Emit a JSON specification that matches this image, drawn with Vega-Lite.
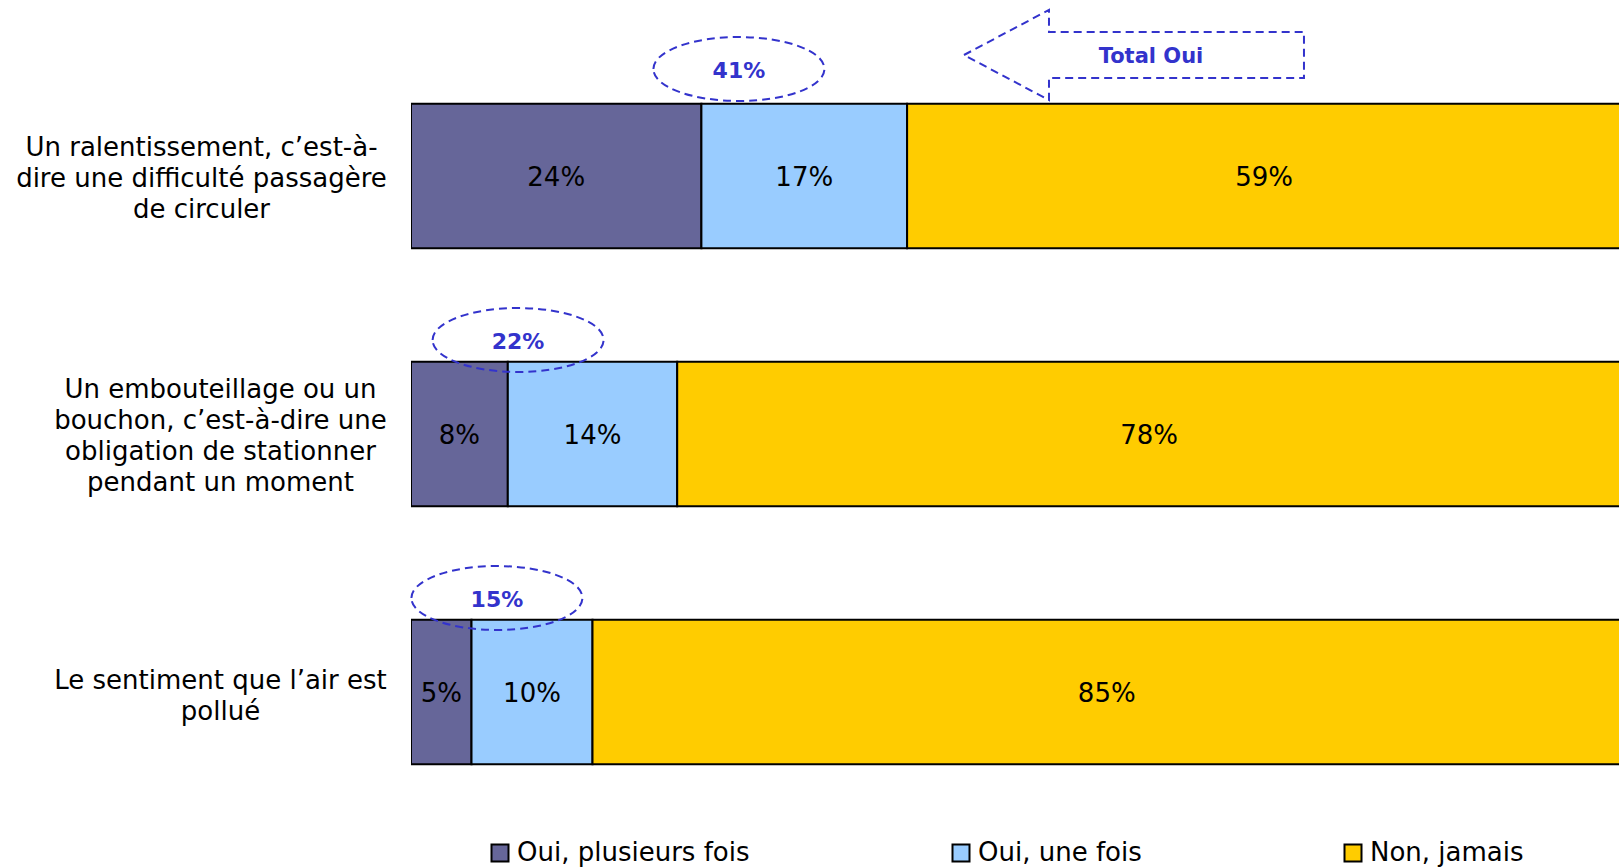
{
  "$schema": "https://vega.github.io/schema/vega-lite/v6.json",
  "width": 1208,
  "height": 774,
  "autosize": "none",
  "padding": {"left": 411, "top": 47, "right": 0, "bottom": 46},
  "config": {
    "view": {"stroke": null},
    "font": "DejaVu Sans"
  },
  "datasets": {
    "reponses": [
      {"question": "Un ralentissement, c’est-à-\ndire une difficulté passagère\nde circuler", "reponse": "Oui, plusieurs fois", "ordre": 1, "pct": 0.24},
      {"question": "Un ralentissement, c’est-à-\ndire une difficulté passagère\nde circuler", "reponse": "Oui, une fois", "ordre": 2, "pct": 0.17},
      {"question": "Un ralentissement, c’est-à-\ndire une difficulté passagère\nde circuler", "reponse": "Non, jamais", "ordre": 3, "pct": 0.59},
      {"question": "Un embouteillage ou un\nbouchon, c’est-à-dire une\nobligation de stationner\npendant un moment", "reponse": "Oui, plusieurs fois", "ordre": 1, "pct": 0.08},
      {"question": "Un embouteillage ou un\nbouchon, c’est-à-dire une\nobligation de stationner\npendant un moment", "reponse": "Oui, une fois", "ordre": 2, "pct": 0.14},
      {"question": "Un embouteillage ou un\nbouchon, c’est-à-dire une\nobligation de stationner\npendant un moment", "reponse": "Non, jamais", "ordre": 3, "pct": 0.78},
      {"question": "Le sentiment que l’air est\npollué", "reponse": "Oui, plusieurs fois", "ordre": 1, "pct": 0.05},
      {"question": "Le sentiment que l’air est\npollué", "reponse": "Oui, une fois", "ordre": 2, "pct": 0.10},
      {"question": "Le sentiment que l’air est\npollué", "reponse": "Non, jamais", "ordre": 3, "pct": 0.85}
    ],
    "totaux": [
      {"question": "Un ralentissement, c’est-à-\ndire une difficulté passagère\nde circuler", "total": 0.41, "centre": 0.271},
      {"question": "Un embouteillage ou un\nbouchon, c’est-à-dire une\nobligation de stationner\npendant un moment", "total": 0.22, "centre": 0.0885},
      {"question": "Le sentiment que l’air est\npollué", "total": 0.15, "centre": 0.071}
    ],
    "fleche": [
      {"question": "Un ralentissement, c’est-à-\ndire une difficulté passagère\nde circuler", "texte": "Total Oui", "centre": 0.5975}
    ]
  },
  "layer": [
    {
      "data": {"name": "reponses"},
      "mark": {"type": "bar", "stroke": "black", "strokeWidth": 2, "clip": true},
      "encoding": {
        "y": {
          "field": "question", "type": "nominal", "sort": null,
          "scale": {"paddingInner": 0.44, "paddingOuter": 0.22},
          "axis": {
            "title": null, "domain": false, "ticks": false,
            "labelExpr": "split(datum.label, '\\n')",
            "labelAlign": "center", "labelBaseline": "middle",
            "labelFont": "DejaVu Sans", "labelFontSize": 26, "labelColor": "black",
            "labelLineHeight": 31, "labelLimit": 600,
            "labelPadding": {"condition": {"test": "indexof(datum.value, 'ralentissement') >= 0", "value": 210}, "value": 191},
            "labelOffset": {"condition": [
              {"test": "indexof(datum.value, 'ralentissement') >= 0", "value": -28},
              {"test": "indexof(datum.value, 'embouteillage') >= 0", "value": -44}
            ], "value": -11}
          }
        },
        "x": {
          "field": "pct", "type": "quantitative", "stack": "zero",
          "scale": {"domain": [0, 1], "range": [0, 1210], "nice": false},
          "axis": null
        },
        "color": {
          "field": "reponse", "type": "nominal",
          "scale": {"domain": ["Oui, plusieurs fois", "Oui, une fois", "Non, jamais"], "range": ["#666699", "#99CCFF", "#FFCC00"]},
          "legend": {
            "orient": "none", "legendX": 76, "legendY": 793, "direction": "horizontal", "columns": 3,
            "title": null, "symbolType": "square", "symbolSize": 289,
            "symbolStrokeColor": "black", "symbolStrokeWidth": 2, "symbolOpacity": 1,
            "labelFont": "DejaVu Sans", "labelFontSize": 26, "labelColor": "black",
            "labelOffset": 4, "labelLimit": 600, "columnPadding": 198, "padding": 0
          }
        },
        "order": {"field": "ordre"}
      }
    },
    {
      "data": {"name": "reponses"},
      "mark": {"type": "text", "fontSize": 26, "color": "black", "font": "DejaVu Sans", "baseline": "middle", "dy": 2},
      "encoding": {
        "y": {"field": "question", "type": "nominal", "sort": null},
        "x": {"field": "pct", "type": "quantitative", "stack": "zero", "bandPosition": 0.5},
        "detail": {"field": "reponse"},
        "order": {"field": "ordre"},
        "text": {"field": "pct", "type": "quantitative", "format": ".0%"}
      }
    },
    {
      "data": {"name": "totaux"},
      "transform": [{"filter": "indexof(datum.question, 'ralentissement') >= 0"}],
      "mark": {"type": "point", "shape": "M -1 0 A 1 0.374 0 1 1 1 0 A 1 0.374 0 1 1 -1 0 Z", "size": 29241, "filled": false, "stroke": "#3333CC", "strokeWidth": 2, "strokeDash": [8, 5], "opacity": 1, "yOffset": -107},
      "encoding": {
        "y": {"field": "question", "type": "nominal", "sort": null},
        "x": {"field": "centre", "type": "quantitative"}
      }
    },
    {
      "data": {"name": "totaux"},
      "transform": [{"filter": "indexof(datum.question, 'ralentissement') < 0"}],
      "mark": {"type": "point", "shape": "M -1 0 A 1 0.374 0 1 1 1 0 A 1 0.374 0 1 1 -1 0 Z", "size": 29241, "filled": false, "stroke": "#3333CC", "strokeWidth": 2, "strokeDash": [8, 5], "opacity": 1, "yOffset": -94},
      "encoding": {
        "y": {"field": "question", "type": "nominal", "sort": null},
        "x": {"field": "centre", "type": "quantitative"}
      }
    },
    {
      "data": {"name": "totaux"},
      "transform": [{"filter": "indexof(datum.question, 'ralentissement') >= 0"}],
      "mark": {"type": "text", "fontSize": 22, "fontWeight": "bold", "color": "#3333CC", "font": "DejaVu Sans", "baseline": "middle", "yOffset": -105},
      "encoding": {
        "y": {"field": "question", "type": "nominal", "sort": null},
        "x": {"field": "centre", "type": "quantitative"},
        "text": {"field": "total", "type": "quantitative", "format": ".0%"}
      }
    },
    {
      "data": {"name": "totaux"},
      "transform": [{"filter": "indexof(datum.question, 'ralentissement') < 0"}],
      "mark": {"type": "text", "fontSize": 22, "fontWeight": "bold", "color": "#3333CC", "font": "DejaVu Sans", "baseline": "middle", "yOffset": -92},
      "encoding": {
        "y": {"field": "question", "type": "nominal", "sort": null},
        "x": {"field": "centre", "type": "quantitative"},
        "text": {"field": "total", "type": "quantitative", "format": ".0%"}
      }
    },
    {
      "data": {"name": "fleche"},
      "mark": {"type": "point", "shape": "M -1 0 L -0.5 -0.265 L -0.5 -0.135 L 1 -0.135 L 1 0.135 L -0.5 0.135 L -0.5 0.265 Z", "size": 115600, "filled": false, "stroke": "#3333CC", "strokeWidth": 2, "strokeDash": [8, 5], "opacity": 1, "yOffset": -121},
      "encoding": {
        "y": {"field": "question", "type": "nominal", "sort": null},
        "x": {"field": "centre", "type": "quantitative"}
      }
    },
    {
      "data": {"name": "fleche"},
      "mark": {"type": "text", "fontSize": 21, "fontWeight": "bold", "color": "#3333CC", "font": "DejaVu Sans", "baseline": "middle", "dx": 17, "yOffset": -119},
      "encoding": {
        "y": {"field": "question", "type": "nominal", "sort": null},
        "x": {"field": "centre", "type": "quantitative"},
        "text": {"field": "texte"}
      }
    }
  ]
}
